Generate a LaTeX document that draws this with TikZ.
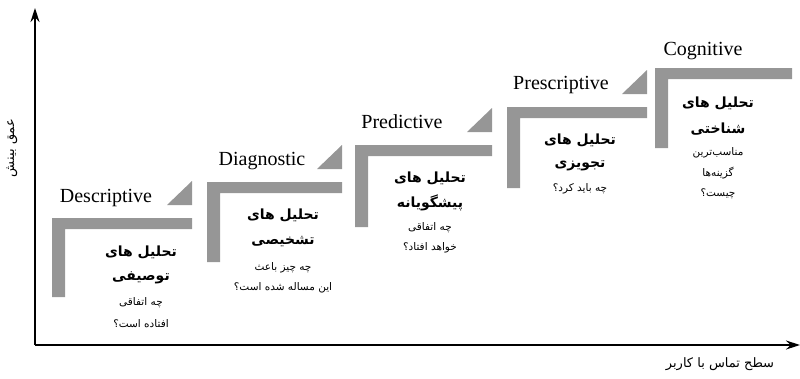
\documentclass[tikz,border=0pt]{standalone}
\usepackage{fontspec}
\usetikzlibrary{arrows.meta}
\setmainfont{Liberation Serif}
\newfontfamily\fa[Script=Arabic]{DejaVu Sans}
\TeXXeTstate=1
\definecolor{bargray}{HTML}{969696}
\tikzset{
  bar/.style={fill=bargray, draw=none},
  tri/.style={fill=bargray, draw=none},
  eng/.style={font=\fontsize{20}{22}\selectfont, inner sep=0pt, anchor=base},
  ttl/.style={font=\fa\bfseries\fontsize{14}{16}\selectfont, inner sep=0pt},
  dsc/.style={font=\fa\fontsize{10.5}{12}\selectfont, inner sep=0pt},
  axlab/.style={font=\fa\fontsize{13}{15}\selectfont, inner sep=0pt},
  axis/.style={line width=1.3pt, -{Stealth[length=14pt,width=9pt]}},
}
\newcommand{\stepshape}[5]{% name, L, T, R, B
  \fill[bar] (#2,#3) -- (#4,#3) -- (#4,#3+11) -- (#2+13,#3+11) -- (#2+13,#5) -- (#2,#5) -- cycle;
}
\newcommand{\steptri}[3]{% name, R, T
  \fill[tri] (#2-25,#3-13) -- (#2,#3-13) -- (#2,#3-37) -- cycle;
}
\begin{document}
\begin{tikzpicture}[x=1pt,y=-1pt]
\useasboundingbox (0,0) rectangle (800,378);
% axes
\coordinate (O) at (35,345);
\coordinate (Ytip) at (35,8);
\coordinate (Xtip) at (800,345);
\draw[axis] (O) -- (Ytip);
\draw[axis] (O) -- (Xtip);
\node[axlab, rotate=90] (ylab) at (12,148) {\beginR عمق بینش\endR};
\node[axlab] (xlab) at (720,364) {\beginR سطح تماس با کاربر\endR};
% steps
\stepshape{s0}{52}{218}{192}{297}
\stepshape{s1}{207}{182}{342}{262}
\stepshape{s2}{355}{145}{492}{227}
\stepshape{s3}{507}{107}{647}{188}
\stepshape{s4}{655}{68}{792}{148}
\steptri{t0}{192}{218}
\steptri{t1}{342}{182}
\steptri{t2}{492}{145}
\steptri{t3}{647}{107}
% english labels
\node[eng] (e0) at (106,202) {Descriptive};
\node[eng] (e1) at (262,165) {Diagnostic};
\node[eng] (e2) at (402,128) {Predictive};
\node[eng] (e3) at (561,89) {Prescriptive};
\node[eng] (e4) at (703,55) {Cognitive};
% persian texts
\node[ttl] (a0) at (141,252) {\beginR تحلیل های\endR};
\node[ttl] (b0) at (141,278) {\beginR توصیفی\endR};
\node[dsc] (c0) at (141,303) {\beginR چه اتفاقی\endR};
\node[dsc] (d0) at (141,324) {\beginR افتاده است؟\endR};

\node[ttl] (a1) at (283,215) {\beginR تحلیل های\endR};
\node[ttl] (b1) at (283,242) {\beginR تشخیصی\endR};
\node[dsc] (c1) at (283,268) {\beginR چه چیز باعث\endR};
\node[dsc] (d1) at (283,288) {\beginR این مساله شده است؟\endR};

\node[ttl] (a2) at (430,178) {\beginR تحلیل های\endR};
\node[ttl] (b2) at (430,203) {\beginR پیشگویانه\endR};
\node[dsc] (c2) at (430,228) {\beginR چه اتفاقی\endR};
\node[dsc] (d2) at (430,248) {\beginR خواهد افتاد؟\endR};

\node[ttl] (a3) at (580,140) {\beginR تحلیل های\endR};
\node[ttl] (b3) at (580,166) {\beginR تجویزی\endR};
\node[dsc] (c3) at (580,189) {\beginR چه باید کرد؟\endR};

\node[ttl] (a4) at (718,103) {\beginR تحلیل های\endR};
\node[ttl] (b4) at (718,129) {\beginR شناختی\endR};
\node[dsc] (c4) at (718,153) {\beginR مناسب‌ترین\endR};
\node[dsc] (d4) at (718,173) {\beginR گزینه‌ها\endR};
\node[dsc] (f4) at (718,194) {\beginR چیست؟\endR};
\end{tikzpicture}
\end{document}
